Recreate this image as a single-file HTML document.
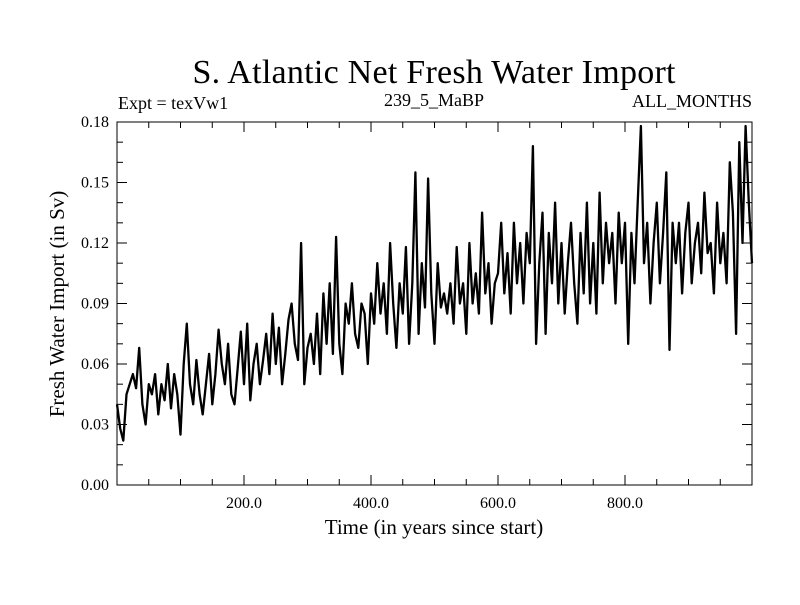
<!DOCTYPE html>
<html><head><meta charset="utf-8"><style>
body{margin:0;background:#fff}
svg text{font-family:"Liberation Serif",serif;fill:#000}
</style></head><body>
<svg id="chart" width="800" height="600" xmlns="http://www.w3.org/2000/svg">
<rect width="800" height="600" fill="#fff"/>
<text x="434" y="83" font-size="34" text-anchor="middle" textLength="483">S. Atlantic Net Fresh Water Import</text>
<text x="118" y="109" font-size="18">Expt = texVw1</text>
<text x="434" y="106" font-size="18" text-anchor="middle">239_5_MaBP</text>
<text x="752" y="107" font-size="18" text-anchor="end">ALL_MONTHS</text>
<text x="434" y="534" font-size="21" text-anchor="middle">Time (in years since start)</text>
<text transform="translate(64,304) rotate(-90)" font-size="21" text-anchor="middle">Fresh Water Import (in Sv)</text>
<g id="axes"></g>
<path id="series" fill="none" stroke="#000" stroke-width="2.3" stroke-linejoin="round"/>
<rect x="117" y="122" width="635" height="363" fill="none" stroke="#000" stroke-width="1"/>
</svg>
<script>
const years = [];
for (let i = 0; i <= 200; i++) years.push(i * 5);
const importSv = [
0.04,0.028,0.022,0.045,0.05,0.055,0.048,0.068,0.04,0.03,0.05,0.045,0.055,0.035,0.05,0.042,0.06,0.038,0.055,0.045,
0.025,0.06,0.08,0.05,0.04,0.062,0.045,0.035,0.05,0.065,0.04,0.055,0.077,0.06,0.05,0.07,0.045,0.04,0.058,0.076,
0.05,0.08,0.042,0.06,0.07,0.05,0.062,0.075,0.055,0.085,0.06,0.078,0.05,0.065,0.082,0.09,0.07,0.062,0.12,0.05,
0.068,0.075,0.06,0.085,0.055,0.095,0.07,0.1,0.065,0.123,0.07,0.055,0.09,0.08,0.1,0.075,0.068,0.09,0.085,0.06,
0.095,0.08,0.11,0.085,0.1,0.075,0.12,0.09,0.068,0.1,0.085,0.118,0.07,0.1,0.155,0.075,0.11,0.088,0.152,0.095,
0.07,0.11,0.088,0.095,0.085,0.1,0.08,0.118,0.09,0.1,0.075,0.12,0.09,0.105,0.085,0.135,0.095,0.11,0.08,0.1,
0.105,0.13,0.095,0.115,0.085,0.13,0.1,0.12,0.09,0.125,0.11,0.168,0.07,0.11,0.135,0.075,0.125,0.1,0.14,0.09,
0.12,0.085,0.11,0.13,0.1,0.08,0.125,0.095,0.14,0.09,0.12,0.085,0.145,0.1,0.13,0.11,0.125,0.09,0.135,0.11,
0.13,0.07,0.125,0.1,0.14,0.178,0.11,0.13,0.09,0.12,0.14,0.1,0.125,0.155,0.067,0.13,0.11,0.13,0.095,0.125,
0.14,0.1,0.12,0.13,0.105,0.145,0.115,0.12,0.095,0.14,0.11,0.125,0.1,0.16,0.135,0.075,0.17,0.12,0.178,0.14,0.11
];
const yTickValues = [0,0.03,0.06,0.09,0.12,0.15,0.18];
const yTickLabels = ["0.00","0.03","0.06","0.09","0.12","0.15","0.18"];
const xTickValues = [200,400,600,800];
const xTickLabels = ["200.0","400.0","600.0","800.0"];

const L=117,R=752,T=122,B=485,XMIN=0,XMAX=1000,YMIN=0,YMAX=0.18;
const sx=v=>L+(v-XMIN)/(XMAX-XMIN)*(R-L);
const sy=v=>B-(v-YMIN)/(YMAX-YMIN)*(B-T);
const NS="http://www.w3.org/2000/svg";
const ax=document.getElementById('axes');
function line(x1,y1,x2,y2,name){const l=document.createElementNS(NS,'line');
l.setAttribute('x1',x1);l.setAttribute('y1',y1);l.setAttribute('x2',x2);l.setAttribute('y2',y2);
l.setAttribute('stroke','#000');l.setAttribute('stroke-width','1');


ax.appendChild(l);}
function text(x,y,s,anchor,name){const t=document.createElementNS(NS,'text');
t.setAttribute('x',x);t.setAttribute('y',y);t.setAttribute('font-size','16');t.setAttribute('text-anchor',anchor);t.textContent=s;


ax.appendChild(t);}
for(let v=50;v<XMAX;v+=50){const x=sx(v);const len=(v%200===0)?10:6;
line(x,B,x,B-len,'x-tick');line(x,T,x,T+len,'x-tick-top');}
for(let k=1;k<18;k++){const y=sy(k*0.01);const len=(k%3===0)?10:6;
line(L,y,L+len,y,'y-tick');line(R,y,R-len,y,'y-tick-right');}
yTickValues.forEach((v,i)=>text(L-8,sy(v)+5,yTickLabels[i],'end','y-tick-label'));
xTickValues.forEach((v,i)=>text(sx(v),508,xTickLabels[i],'middle','x-tick-label'));
let d='';
importSv.forEach((v,i)=>{d+=(i?'L':'M')+sx(years[i]).toFixed(1)+','+sy(v).toFixed(1);});
document.getElementById('series').setAttribute('d',d);
</script>
</body></html>
